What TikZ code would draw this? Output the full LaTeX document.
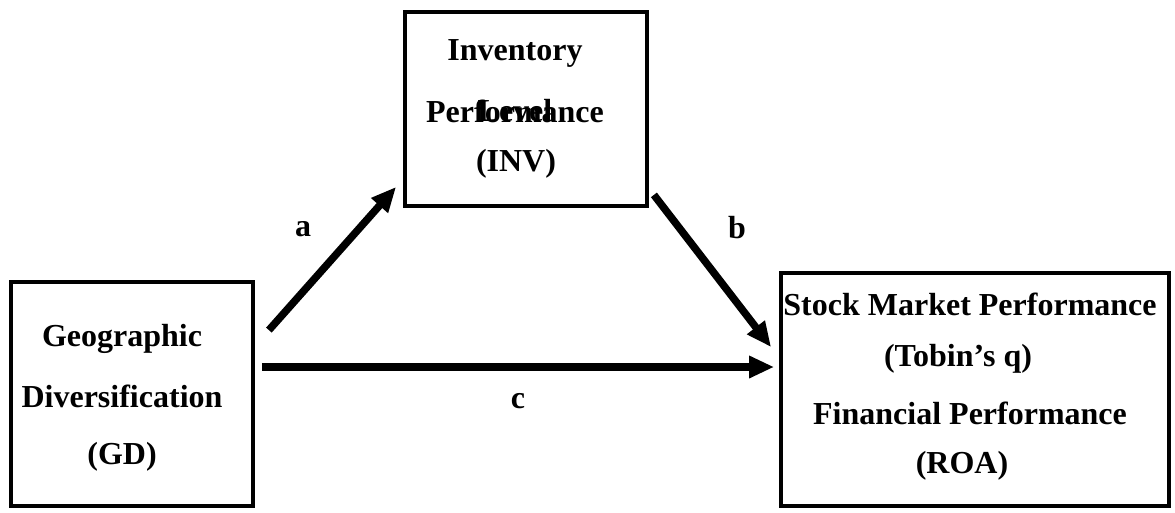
\documentclass[tikz,border=0pt]{standalone}
\usepackage{fontspec}
\setmainfont{Liberation Serif}
\usetikzlibrary{arrows.meta}
\tikzset{
  box/.style={draw, line width=3.8pt, rectangle, inner sep=0pt},
  txt/.style={font=\fontsize{32}{38}\selectfont\bfseries, inner sep=0pt, anchor=center},
  arr/.style={line width=7.5pt, -{Triangle[length=25pt,width=21pt]}},
}
\begin{document}
\begin{tikzpicture}[x=1pt,y=-1pt]
\useasboundingbox (0,0) rectangle (1175,512);
% boxes
\node[box, minimum width=242pt, minimum height=224pt] (gd) at (132,394) {};
\node[box, minimum width=242pt, minimum height=194pt] (inv) at (526,109) {};
\node[box, minimum width=388pt, minimum height=233pt] (out) at (975,389.5) {};
% texts
\node[txt] (gd1) at (122,339) {Geographic};
\node[txt] (gd2) at (122,396) {Diversification};
\node[txt] (gd3) at (122,457) {(GD)};
\node[txt] (inv1) at (515,53) {Inventory};
\node[txt] (inv2) at (515,111) {Performance};
\node[txt] (inv2b) at (515,111) {Level};
\node[txt] (inv3) at (516,164) {(INV)};
\node[txt] (out1) at (970,304) {Stock Market Performance};
\node[txt] (out2) at (958,359) {(Tobin’s q)};
\node[txt] (out3) at (970,413) {Financial Performance};
\node[txt] (out4) at (962,466) {(ROA)};
% arrows
\draw[arr] ([xshift=14pt,yshift=-50pt]gd.north east) -- ([xshift=-7pt,yshift=21pt]inv.south west);
\draw[arr] ([xshift=5pt,yshift=13pt]inv.south east) -- ([xshift=-8pt,yshift=-76pt]out.north west);
\draw[arr] ([xshift=7pt,yshift=27pt]gd.east) -- ([xshift=-5pt,yshift=22.5pt]out.west);
% labels
\node[txt] (la) at (303,229) {a};
\node[txt] (lb) at (737,228) {b};
\node[txt] (lc) at (518,401) {c};
\end{tikzpicture}
\end{document}
